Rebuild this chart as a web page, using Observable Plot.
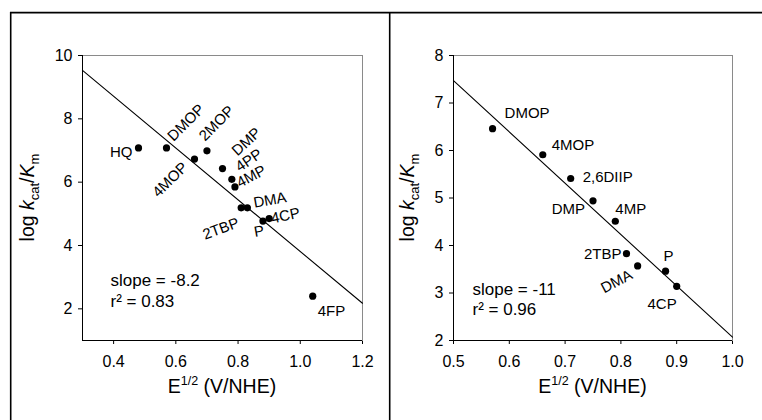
<!DOCTYPE html>
<html><head><meta charset="utf-8">
<script src="https://cdn.jsdelivr.net/npm/d3@7"></script>
<script src="https://cdn.jsdelivr.net/npm/@observablehq/plot@0.6"></script>
<style>
html,body{margin:0;padding:0;background:#fff;}
#page{position:relative;width:762px;height:420px;overflow:hidden;background:#fff;font-family:"Liberation Sans",Arial,sans-serif;}
#overlay{position:absolute;left:0;top:0;pointer-events:none;}
</style></head><body><div id="page"></div>
<script>
// ---------- data: left panel ----------
const leftNames = ["HQ","DMOP","4MOP","2MOP","DMP","4PP","4MP","2TBP","DMA","P","4CP","4FP"];
const leftE     = [0.48,0.57,0.66,0.70,0.75,0.78,0.79,0.81,0.83,0.88,0.90,1.04];
const leftLogK  = [7.08,7.08,6.73,6.99,6.43,6.09,5.85,5.19,5.19,4.77,4.85,2.40];
const leftFit   = {slope: -8.17, intercept: 11.98};
const leftNotes = ["slope = -8.2", "r\u00B2 = 0.83"];
const leftXTicks = [0.4,0.6,0.8,1.0,1.2];
const leftXTickLabels = ["0.4","0.6","0.8","1.0","1.2"];
const leftYTicks = [2,4,6,8,10];
const leftYTickLabels = ["2","4","6","8","10"];
const leftXDomain = [0.3,1.2];
const leftYDomain = [1,10];

// ---------- data: right panel ----------
const rightNames = ["DMOP","4MOP","2,6DIIP","DMP","4MP","2TBP","DMA","P","4CP"];
const rightE     = [0.57,0.66,0.71,0.75,0.79,0.81,0.83,0.88,0.90];
const rightLogK  = [6.46,5.91,5.41,4.94,4.51,3.83,3.57,3.46,3.14];
const rightFit   = {slope: -10.8, intercept: 12.87};
const rightNotes = ["slope = -11", "r\u00B2 = 0.96"];
const rightXTicks = [0.5,0.6,0.7,0.8,0.9,1.0];
const rightXTickLabels = ["0.5","0.6","0.7","0.8","0.9","1.0"];
const rightYTicks = [2,3,4,5,6,7,8];
const rightYTickLabels = ["2","3","4","5","6","7","8"];
const rightXDomain = [0.5,1.0];
const rightYDomain = [2,8];

// ---------- label placement (style) ----------
const leftPlace = {
  "HQ":   {dx:-6, dy:4,  rotate:0,   anchor:"end",   line:"middle"},
  "DMOP": {dx:7,  dy:-6, rotate:-45, anchor:"start", line:"bottom"},
  "4MOP": {dx:-6, dy:9,  rotate:-45, anchor:"end",   line:"bottom"},
  "2MOP": {dx:-2, dy:-9, rotate:-45, anchor:"start", line:"bottom"},
  "DMP":  {dx:15, dy:-12,rotate:-43, anchor:"start", line:"bottom"},
  "4PP":  {dx:8,  dy:-7, rotate:-34, anchor:"start", line:"bottom"},
  "4MP":  {dx:5,  dy:1,  rotate:-28, anchor:"start", line:"bottom"},
  "2TBP": {dx:-1, dy:19, rotate:-20, anchor:"end",   line:"bottom"},
  "DMA":  {dx:7,  dy:0,  rotate:-10, anchor:"start", line:"bottom"},
  "P":    {dx:-8, dy:16, rotate:-10, anchor:"start", line:"bottom"},
  "4CP":  {dx:3,  dy:5,  rotate:-12, anchor:"start", line:"bottom"},
  "4FP":  {dx:5,  dy:15, rotate:0,   anchor:"start", line:"middle"}
};
const rightPlace = {
  "DMOP":    {dx:12, dy:-15, rotate:0,   anchor:"start", line:"middle"},
  "4MOP":    {dx:9,  dy:-10, rotate:0,   anchor:"start", line:"middle"},
  "2,6DIIP": {dx:12, dy:-1,  rotate:0,   anchor:"start", line:"middle"},
  "DMP":     {dx:-8, dy:8,   rotate:0,   anchor:"end",   line:"middle"},
  "4MP":     {dx:0,  dy:-12, rotate:0,   anchor:"start", line:"middle"},
  "2TBP":    {dx:-5, dy:1,   rotate:0,   anchor:"end",   line:"middle"},
  "DMA":     {dx:-4, dy:12,  rotate:-28, anchor:"end",   line:"bottom"},
  "P":       {dx:-2, dy:-15, rotate:0,   anchor:"start", line:"middle"},
  "4CP":     {dx:0,  dy:18,  rotate:0,   anchor:"end",   line:"middle"}
};

const FONT = '"Liberation Sans", Arial, sans-serif';
const TICK_FS = 16;

function makePanel(cfg) {
  const data = cfg.names.map((n, i) => ({name: n, x: cfg.xs[i], y: cfg.ys[i]}));
  const fitPts = cfg.xDomain.map(x => ({x, y: cfg.fit.intercept + cfg.fit.slope * x}));
  const labelMarks = data.map(d => {
    const p = cfg.place[d.name];
    return Plot.text([d], {x: "x", y: "y", text: "name", dx: p.dx, dy: p.dy, rotate: p.rotate,
      textAnchor: p.anchor, lineAnchor: p.line, fontSize: 15, fill: "black"});
  });
  const noteMarks = cfg.notes.map((t, i) => Plot.text([t], {
    frameAnchor: "bottom-left", text: d => d, dx: cfg.noteDx, dy: cfg.noteDy[i],
    textAnchor: "start", lineAnchor: "bottom", fontSize: 17, fill: "black"}));
  const svg = Plot.plot({
    width: cfg.width, height: 420,
    marginLeft: cfg.marginLeft, marginRight: cfg.marginRight, marginTop: 55, marginBottom: 80,
    x: {domain: cfg.xDomain, ticks: cfg.xTicks, tickFormat: d => cfg.xTickLabels[cfg.xTicks.indexOf(d)],
        tickSize: 4, tickPadding: 11, label: null},
    y: {domain: cfg.yDomain, ticks: cfg.yTicks, tickFormat: d => cfg.yTickLabels[cfg.yTicks.indexOf(d)],
        tickSize: 4, tickPadding: 6, label: null},
    style: {position: "absolute", left: cfg.left + "px", top: "0px", background: "transparent",
            fontFamily: FONT, fontSize: TICK_FS + "px", color: "black", overflow: "visible"},
    marks: [
      Plot.frame({stroke: "#8a8a8a"}),
      Plot.ruleX([cfg.xDomain[0]], {stroke: "black"}),
      Plot.ruleY([cfg.yDomain[0]], {stroke: "black"}),
      Plot.line(fitPts, {x: "x", y: "y", stroke: "black", strokeWidth: 1.1}),
      Plot.dot(data, {x: "x", y: "y", r: 3.6, fill: "black", stroke: "none"}),
      ...labelMarks,
      ...noteMarks
    ]
  });
  const s = d3.select(svg);
  s.selectAll('g[aria-label*="axis"]').attr("font-size", TICK_FS).attr("font-family", FONT);
  // y axis title
  const yt = s.append("text")
    .attr("transform", `translate(${cfg.yLabelX},197.5) rotate(-90)`)
    .attr("text-anchor", "middle").attr("font-size", 19.5).attr("fill", "black");
  yt.append("tspan").text("log ");
  yt.append("tspan").attr("font-style", "italic").text("k");
  yt.append("tspan").attr("font-size", 13).attr("dy", 5).text("cat");
  yt.append("tspan").attr("dy", -5).text("/");
  yt.append("tspan").attr("font-style", "italic").text("K");
  yt.append("tspan").attr("font-size", 13).attr("dy", 5).text("m");
  // x axis title
  const xc = cfg.marginLeft + (cfg.width - cfg.marginLeft - cfg.marginRight) / 2;
  const xt = s.append("text").attr("x", xc).attr("y", 392.5)
    .attr("text-anchor", "middle").attr("font-size", 19.5).attr("fill", "black");
  xt.append("tspan").text("E");
  xt.append("tspan").attr("font-size", 12.5).attr("dy", -7.5).text("1/2");
  xt.append("tspan").attr("dy", 7.5).text(" (V/NHE)");
  return svg;
}

const page = document.getElementById("page");
page.appendChild(makePanel({
  names: leftNames, xs: leftE, ys: leftLogK, fit: leftFit, notes: leftNotes,
  xTicks: leftXTicks, xTickLabels: leftXTickLabels, yTicks: leftYTicks, yTickLabels: leftYTickLabels,
  xDomain: leftXDomain, yDomain: leftYDomain, place: leftPlace,
  width: 390, left: 0, marginLeft: 82, marginRight: 28, yLabelX: 33.5,
  noteDx: 28, noteDy: [-55, -34]
}));
page.appendChild(makePanel({
  names: rightNames, xs: rightE, ys: rightLogK, fit: rightFit, notes: rightNotes,
  xTicks: rightXTicks, xTickLabels: rightXTickLabels, yTicks: rightYTicks, yTickLabels: rightYTickLabels,
  xDomain: rightXDomain, yDomain: rightYDomain, place: rightPlace,
  width: 372, left: 390, marginLeft: 63, marginRight: 30, yLabelX: 23.5,
  noteDx: 19, noteDy: [-46, -26]
}));

// outer panel frame lines
const ov = d3.select(page).append("svg").attr("id", "overlay").attr("width", 762).attr("height", 420);
ov.append("line").attr("x1", 10).attr("x2", 762).attr("y1", 12.6).attr("y2", 12.6).attr("stroke", "black").attr("stroke-width", 1.6);
ov.append("line").attr("x1", 10.7).attr("x2", 10.7).attr("y1", 12).attr("y2", 420).attr("stroke", "black").attr("stroke-width", 1.6);
ov.append("line").attr("x1", 389.7).attr("x2", 389.7).attr("y1", 12).attr("y2", 420).attr("stroke", "black").attr("stroke-width", 1.6);
</script>
</body></html>
